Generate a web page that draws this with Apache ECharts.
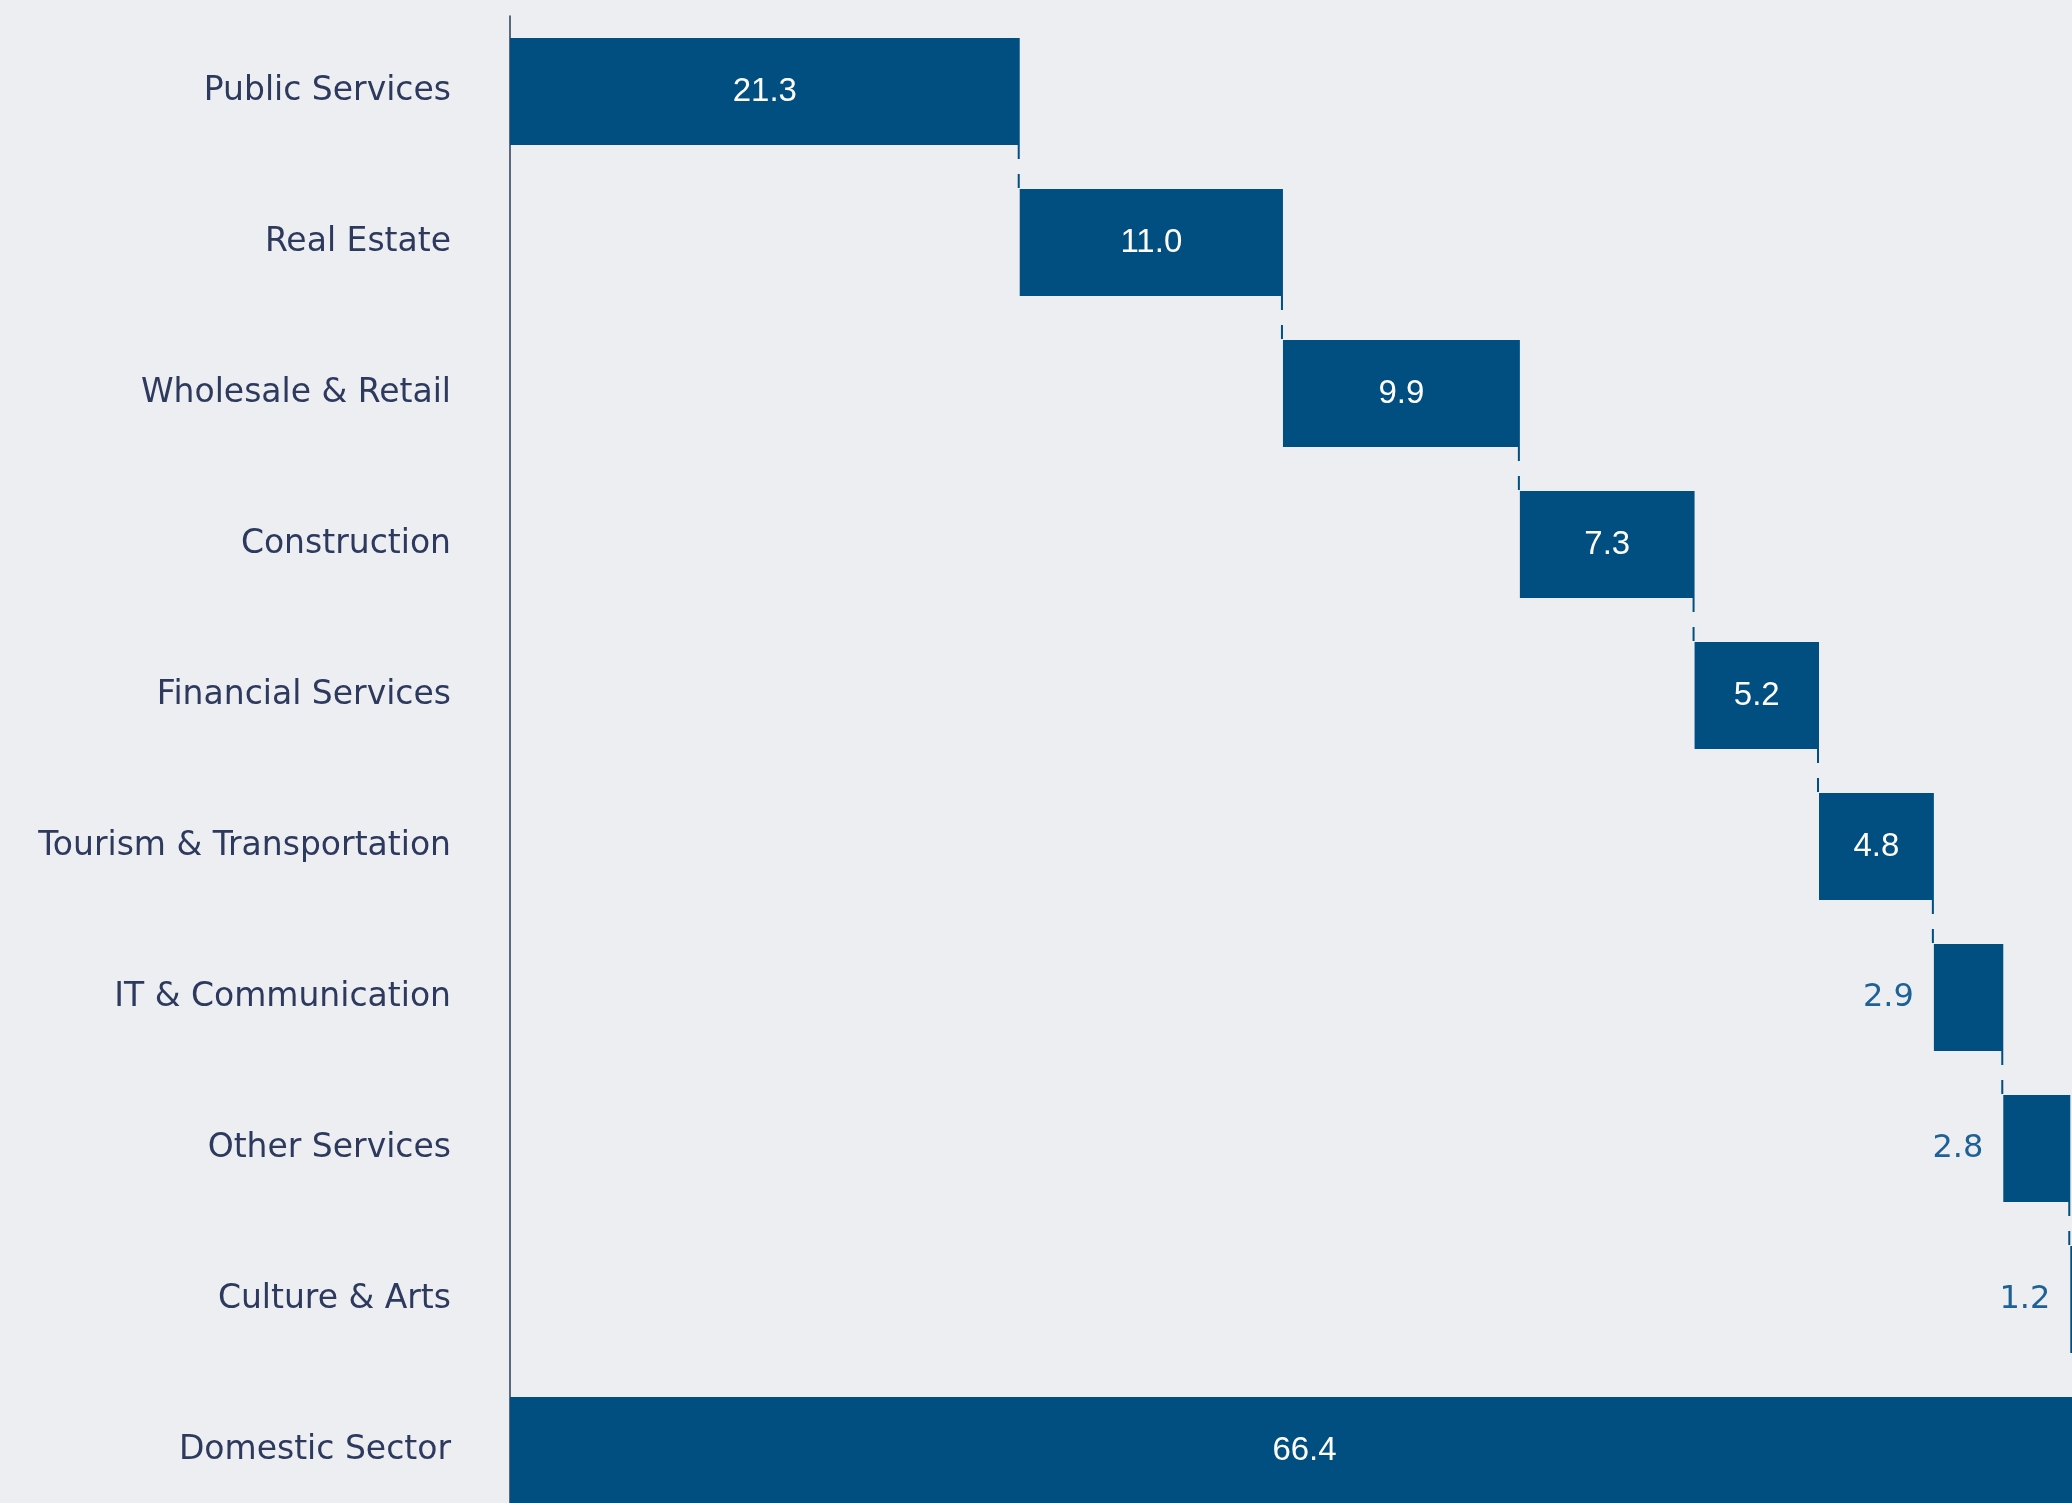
<!DOCTYPE html>
<html>
<head>
<meta charset="utf-8">
<script src="https://cdn.jsdelivr.net/npm/echarts@6/dist/echarts.min.js"></script>
<style>
html,body{margin:0;padding:0;background:#edeef2;overflow:hidden;}
#chart{width:2099px;height:1526px;}
</style>
</head>
<body>
<div id="chart"></div>
<script>
// categories and contributions (waterfall)
var categories = ['Public Services','Real Estate','Wholesale & Retail','Construction','Financial Services','Tourism & Transportation','IT & Communication','Other Services','Culture & Arts','Domestic Sector'];
var values = [21.3, 11.0, 9.9, 7.3, 5.2, 4.8, 2.9, 2.8, 1.2];
var totalValue = 66.4;

var barColor = '#004f80';
var textColor = '#2d3a5e';
var outLabelColor = '#1d6196';

// build base (invisible) and visible parts
var baseData = [];
var barData = [];
var ends = [];
var run = 0;
for (var i = 0; i < values.length; i++) {
	baseData.push(run);
	run = Math.round((run + values[i]) * 10) / 10;
	ends.push(run);
	var small = values[i] < 3;
	barData.push({
		value: values[i],
		label: small ? { position: 'left', distance: 20, color: outLabelColor, fontFamily: 'DejaVu Sans', fontSize: 32 } : {}
	});
}
baseData.push(0);
barData.push({ value: totalValue });

var connData = [];
for (var j = 0; j < ends.length; j++) {
	connData.push([ends[j], j]);
}

var chart = echarts.init(document.getElementById('chart'));
var option = {
	backgroundColor: '#edeef2',
	animation: false,
	grid: { left: 510, right: 0, top: 16, bottom: 0, containLabel: false },
	xAxis: {
		type: 'value',
		min: 0,
		max: totalValue,
		show: false
	},
	yAxis: {
		type: 'category',
		inverse: true,
		data: categories,
		axisLine: { show: true, lineStyle: { color: '#2b3a5a', width: 1.5 } },
		axisTick: { show: false },
		axisLabel: {
			color: textColor,
			fontSize: 33,
			fontFamily: 'DejaVu Sans',
			margin: 59
		}
	},
	series: [
		{
			type: 'bar',
			stack: 'wf',
			barWidth: '71%',
			itemStyle: { color: 'transparent' },
			silent: true,
			data: baseData
		},
		{
			type: 'bar',
			stack: 'wf',
			barWidth: '71%',
			itemStyle: { color: barColor },
			label: {
				show: true,
				position: 'inside',
				color: '#ffffff',
				fontSize: 33,
				fontFamily: 'Liberation Sans',
				formatter: function (p) { return p.value.toFixed(1); }
			},
			data: barData
		},
		{
			type: 'custom',
			silent: true,
			z: 5,
			renderItem: function (params, api) {
				var x = api.value(0), idx = api.value(1);
				var p1 = api.coord([x, idx]);
				var p2 = api.coord([x, idx + 1]);
				var half = api.size([0, 1])[1] * 0.71 / 2;
				return {
					type: 'line',
					shape: { x1: p1[0] - 1, y1: p1[1] + half, x2: p2[0] - 1, y2: p2[1] - half },
					style: { stroke: barColor, lineWidth: 2, lineDash: [14, 15] }
				};
			},
			data: connData
		}
	]
};
chart.setOption(option);
</script>
</body>
</html>
